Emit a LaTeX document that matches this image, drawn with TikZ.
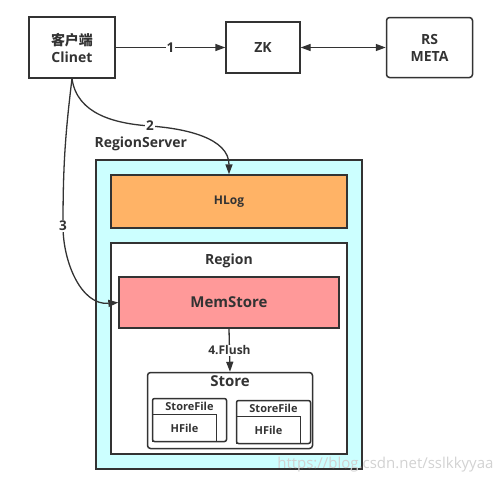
\documentclass[tikz,border=0pt]{standalone}
\usepackage{fontspec}
\setmainfont{Open Sans}
\newfontfamily\cjk{Noto Sans CJK SC}
\usetikzlibrary{arrows.meta}
\definecolor{ink}{HTML}{333333}
\definecolor{rsfill}{HTML}{CCFFFF}
\definecolor{hlogfill}{HTML}{FFB366}
\definecolor{memfill}{HTML}{FF9999}
\tikzset{
  box/.style={draw=ink,line width=1.3pt,inner sep=0pt,align=center},
  flow/.style={draw=ink,line width=1.3pt,-{Triangle[length=10pt,width=7pt]}},
  lbl/.style={fill=white,inner sep=1pt,font=\bfseries\fontsize{13.5}{13.5}\selectfont}
}
\begin{document}
\begin{tikzpicture}[x=1pt,y=-1pt,text=ink,font=\bfseries\fontsize{14}{17}\selectfont]
  \useasboundingbox (0,0) rectangle (499,482);
  % top row
  \node[box,minimum width=86pt,minimum height=61pt] (client) at (72,47.5)
    {{\cjk\bfseries 客户端}\\Clinet};
  \node[box,minimum width=74pt,minimum height=51pt] (zk) at (263,47.5) {ZK};
  \node[box,rounded corners=3pt,line width=1.5pt,minimum width=86pt,minimum height=60pt] (meta)
    at (429.5,47.5) {RS\\META};
  % region server
  \node[box,fill=rsfill,minimum width=266pt,minimum height=309pt] (rs) at (229,314.5) {};
  \node[anchor=west] (rsname) at (91,144) {RegionServer};
  \node[box,fill=hlogfill,minimum width=236pt,minimum height=53pt,
    font=\bfseries\fontsize{12}{12}\selectfont] (hlog) at (229,201.5) {HLog};
  \node[box,fill=white,minimum width=236pt,minimum height=211pt] (region) at (229,348.5) {};
  \node (regname) at (229,261) {Region};
  \node[box,fill=memfill,minimum width=220pt,minimum height=51pt,
    font=\bfseries\fontsize{15}{15}\selectfont] (mem) at (229,302.5) {MemStore};
  \node[box,rounded corners=3pt,line width=1.5pt,minimum width=165pt,minimum height=76pt] (store)
    at (230,410.5) {};
  \node[font=\bfseries\fontsize{15}{15}\selectfont] (storename) at (230,381) {Store};
  % store files
  \foreach \sf/\cx/\top in {1/189.5/398.5,2/273.5/400.5}{
    \node[box,rounded corners=2pt,line width=1.5pt,minimum width=74pt,minimum height=43pt] (sf\sf)
      at (\cx,\top+21.5) {};
    \node[font=\bfseries\fontsize{11}{11}\selectfont] (sfname\sf) at (\cx,\top+8) {StoreFile};
    \node[box,minimum width=64pt,minimum height=27pt,
      font=\bfseries\fontsize{11}{11}\selectfont] (hf\sf) at (\cx-5,\top+29.5) {HFile};
  }
  % connectors
  \coordinate (k2) at (150,126);
  \coordinate (k3) at (63,226);
  \draw[flow] (client) -- node[lbl] {1} (zk);
  \draw[flow,{Triangle[length=10pt,width=7pt]}-{Triangle[length=10pt,width=7pt]}] (zk) -- (meta);
  \draw[flow] (client.south) to[out=-82,in=176] (k2) to[out=-4,in=90] (hlog.north);
  \node[lbl] (lbl2) at (k2) {2};
  \draw[flow] (client.south) to[out=-97,in=90] (k3) to[out=-90,in=185] (mem.west);
  \node[lbl] (lbl3) at (k3) {3};
  \draw[flow] (mem.south) -- node[lbl,pos=0.5,font=\bfseries\fontsize{12}{12}\selectfont] {4.Flush} (store.north);
  \node[anchor=east,text=gray!35,font=\fontsize{15}{15}\selectfont] (mark) at (497,465)
    {https://blog.csdn.net/sslkkyyaa};
\end{tikzpicture}
\end{document}
